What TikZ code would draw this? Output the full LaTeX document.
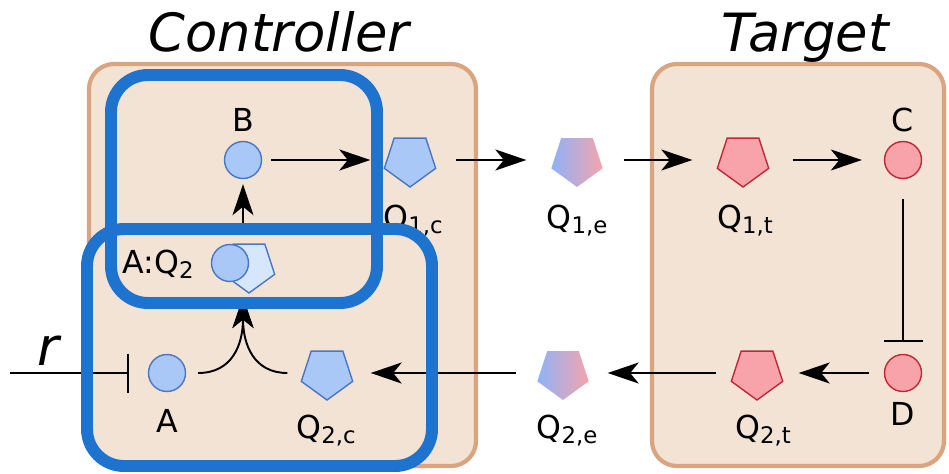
\documentclass[tikz,border=0pt]{standalone}
\usepackage{fontspec}
\setmainfont{DejaVu Sans}
\usetikzlibrary{arrows.meta,shapes.geometric}
\definecolor{tanfill}{HTML}{F3E3D5}
\definecolor{tanborder}{HTML}{D9A47F}
\definecolor{bluefill}{HTML}{A9C8F7}
\definecolor{blueborder}{HTML}{4877C4}
\definecolor{lightbluefill}{HTML}{D6E6FC}
\definecolor{pinkfill}{HTML}{F8A3A9}
\definecolor{pinkborder}{HTML}{C0283A}
\definecolor{gradblue}{HTML}{8FB2F8}
\definecolor{gradpink}{HTML}{F4A4AC}
\definecolor{boxblue}{HTML}{1E73CE}
\newcommand{\lsub}[1]{\raisebox{-3.2pt}{\fontsize{13}{13}\selectfont #1}}
\begin{document}
\begin{tikzpicture}[x=0.02cm,y=-0.02cm,
  tanbox/.style={draw=tanborder,fill=tanfill,line width=2.4pt,rounded corners=0.5cm},
  bluebox/.style={draw=boxblue,line width=6.8pt,rounded corners=0.74cm},
  title/.style={font=\fontsize{30}{30}\selectfont\itshape,anchor=base},
  lbl/.style={font=\fontsize{18}{18}\selectfont,anchor=base,inner sep=0pt},
  bcirc/.style={circle,draw=blueborder,fill=bluefill,line width=0.8pt,minimum size=0.74cm,inner sep=0pt},
  pcirc/.style={circle,draw=pinkborder,fill=pinkfill,line width=0.8pt,minimum size=0.74cm,inner sep=0pt},
  penta/.style={regular polygon,regular polygon sides=5,shape border rotate=180,minimum size=1.08cm,inner sep=0pt,line width=0.8pt},
  bpenta/.style={penta,draw=blueborder,fill=bluefill},
  ppenta/.style={penta,draw=pinkborder,fill=pinkfill},
  gpenta/.style={penta,left color=gradblue,right color=gradpink,draw=none},
  arr/.style={line width=1.1pt,-{Stealth[length=0.62cm,width=0.42cm,inset=0.17cm]}},
  inh/.style={line width=1.1pt,-{Bar[width=0.78cm,line width=1.1pt]}}
]
\useasboundingbox (0,0) rectangle (949,473);
% background boxes
\draw[tanbox] (89,64) rectangle (476,466);
\draw[tanbox] (652,64) rectangle (944,466);
\node[title] (tc) at (279,52) {Controller};
\node[title] (tt) at (805,52) {Target};
% top row
\node[bcirc] (B) at (243,160) {};
\node[bpenta] (Q1c) at (410,160) {};
\node[gpenta] (Q1e) at (577,160) {};
\node[ppenta] (Q1t) at (743,160) {};
\node[pcirc] (C) at (903,160) {};
% bottom row
\node[pcirc] (D) at (903,373) {};
\node[ppenta] (Q2t) at (757,373) {};
\node[gpenta] (Q2e) at (563,373) {};
\node[bpenta] (Q2c) at (327,373) {};
\node[bcirc] (A) at (167,373) {};
% complex
\node[penta,draw=blueborder,fill=lightbluefill] (AQp) at (249,266) {};
\node[bcirc] (AQc) at (230,263) {};
\coordinate (AQtop) at (243,233);
\coordinate (merge) at (243,297);
\coordinate (rstart) at (10,373);
% labels
\node[lbl] (lB) at (243,132) {B};
\node[lbl] (lQ1c) at (413,228) {Q\lsub{1,c}};
\node[lbl] (lQ1e) at (577,228) {Q\lsub{1,e}};
\node[lbl] (lQ1t) at (745,228) {Q\lsub{1,t}};
\node[lbl] (lC) at (903,132) {C};
\node[lbl] (lD) at (903,425) {D};
\node[lbl] (lQ2t) at (763,438) {Q\lsub{2,t}};
\node[lbl] (lQ2e) at (567,438) {Q\lsub{2,e}};
\node[lbl] (lQ2c) at (326,438) {Q\lsub{2,c}};
\node[lbl] (lA) at (167,432) {A};
\node[lbl] (lAQ) at (158,273) {A:Q\lsub{2}};
\node[font=\fontsize{30}{30}\selectfont\itshape,anchor=base,inner sep=0pt] (lr) at (48,365) {r};
% connectors
\draw[arr,shorten <=0.18cm,shorten >=0.32cm] (B) -- (Q1c);
\draw[arr,shorten <=0.44cm,shorten >=0.54cm] (Q1c) -- (Q1e);
\draw[arr,shorten <=0.46cm,shorten >=0.54cm] (Q1e) -- (Q1t);
\draw[arr,shorten <=0.52cm,shorten >=0.44cm] (Q1t) -- (C);
\draw[inh,shorten <=0.4cm,shorten >=0.24cm] (C) -- (D);
\draw[arr,shorten <=0.3cm,shorten >=0.36cm] (D) -- (Q2t);
\draw[arr,shorten <=0.34cm,shorten >=0.42cm] (Q2t) -- (Q2e);
\draw[arr,shorten <=0.46cm,shorten >=0.4cm] (Q2e) -- (Q2c);
\draw[inh,shorten >=0.38cm] (rstart) -- (A);
\draw[arr] ([xshift=0.24cm]A.east) .. controls (232,373) and (243,345) .. (merge);
\draw[arr] ([xshift=-0.32cm]Q2c.west) .. controls (254,373) and (243,345) .. (merge);
\draw[arr,shorten >=0.1cm] (AQtop) -- (B);
% highlight boxes
\draw[bluebox] (111,75) rectangle (377,303);
\draw[bluebox] (87,229) rectangle (432,466);
\end{tikzpicture}
\end{document}
